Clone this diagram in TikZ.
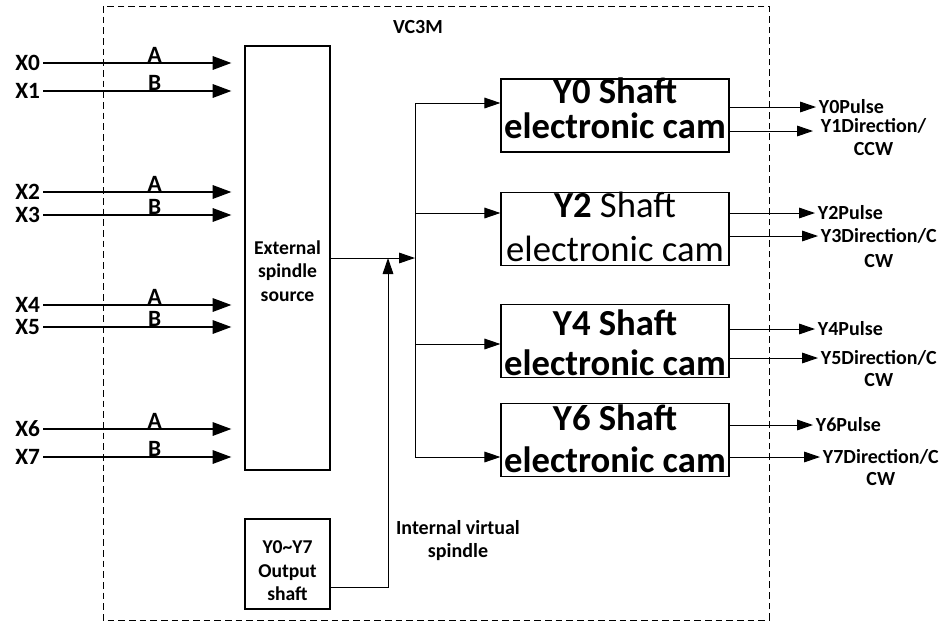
\documentclass[tikz,border=0pt]{standalone}
\usepackage{fontspec}
\setmainfont{Carlito}
\usetikzlibrary{arrows.meta,calc}

\begin{document}
\begin{tikzpicture}[x=0.75pt, y=-0.75pt, >={Triangle[length=12pt,width=8pt]},
	box/.style={draw, line width=0.9pt, inner sep=0pt},
	wire/.style={line width=0.75pt},
	inarrow/.style={line width=1.5pt, -{Triangle[length=14pt,width=10pt]}},
	inlbl/.style={font=\fontsize{17.5}{20}\selectfont\bfseries},
	boxlbl/.style={font=\fontsize{14.7}{17.6}\selectfont\bfseries, align=center},
	outlbl/.style={font=\fontsize{15}{17}\selectfont\bfseries, inner sep=2pt},
	camlbl/.style={align=center, anchor=base}]
	\useasboundingbox (0,0) rectangle (942,622);
	\draw[line width=0.75pt, dash pattern=on 5pt off 3pt] (103,6) rectangle (769,620);
	\node[font=\fontsize{15}{18}\selectfont\bfseries] (vc) at (418,27) {VC3M};

	\node[box, minimum width=63.75pt, minimum height=318pt] (ext) at (287.5,258) {};
	\node[boxlbl] (extlbl) at (287.5,271) {External\\spindle\\source};
	\node[box, minimum width=63.75pt, minimum height=67.5pt] (outsh) at (287.5,564) {};
	\node[boxlbl] (outshlbl) at (287.5,571) {Y0\textasciitilde Y7\\Output\\shaft};

	\foreach \i/\yy/\ab in {0/63/A,1/91/B,2/192/A,3/215/B,4/305/A,5/327/B,6/429/A,7/457/B}{
		\node[inlbl, anchor=east, inner sep=2pt] (x\i) at (43,\yy) {X\i};
		\draw[inarrow, shorten >=9.75pt] (x\i.east) -- (ext.west |- x\i.east) node[pos=0.555, above, inner sep=0pt, inlbl] (ab\i) {\ab};
	}

	\node[box, minimum width=171pt, minimum height=54.75pt] (y0) at (615,115.5) {};
	\node[box, minimum width=171pt, minimum height=54.75pt] (y2) at (615,229) {};
	\node[box, minimum width=171pt, minimum height=54.75pt] (y4) at (615,341) {};
	\node[box, minimum width=171pt, minimum height=54.75pt] (y6) at (615,440) {};
	\node[camlbl, font=\fontsize{27.5}{26.25}\selectfont\bfseries] (y0t) at (615,138) {Y0 Shaft\\electronic cam};
	\node[camlbl, font=\fontsize{27.5}{33}\selectfont] (y2t) at (615,261) {\textbf{Y2} Shaft\\electronic cam};
	\node[camlbl, font=\fontsize{27.5}{30}\selectfont\bfseries] (y4t) at (615,375) {Y4 Shaft\\electronic cam};
	\node[camlbl, font=\fontsize{27.5}{31.5}\selectfont\bfseries] (y6t) at (615,472) {Y6 Shaft\\electronic cam};

	\coordinate (bj) at (415,258);
	\coordinate (vj) at (388,258);
	\coordinate (b0) at (415,103);
	\coordinate (b2) at (415,213);
	\coordinate (b4) at (415,344);
	\coordinate (b6) at (415,457);
	\draw[wire, ->] (ext.east) -- (bj);
	\draw[wire, ->] ($(outsh.east)+(0,23)$) -| (vj);
	\draw[wire] (b0) -- (b6);
	\foreach \n in {0,2,4,6}
		\draw[wire, ->] (b\n) -- (b\n -| y\n.west);
	\node[boxlbl, font=\fontsize{15}{17.3}\selectfont\bfseries] (ivs) at (458,541) {Internal virtual\\spindle};

	\node[outlbl, anchor=west] (p0) at (816,107) {Y0Pulse};
	\node[outlbl, anchor=west] (d0) at (818,126) {Y1Direction/};
	\node[outlbl] (d0b) at (d0.center |- 0,149) {CCW};
	\coordinate (d0in) at (813,131);
	\draw[wire, ->] (p0.west -| y0.east) -- (p0.west);
	\draw[wire, ->] (d0in -| y0.east) -- (d0in);

	\node[outlbl, anchor=west] (p2) at (815,213) {Y2Pulse};
	\node[outlbl, anchor=west] (d2) at (818,236) {Y3Direction/C};
	\node[outlbl] (d2b) at (d2.center |- 0,261) {CW};
	\draw[wire, ->] (p2.west -| y2.east) -- (p2.west);
	\draw[wire, ->] (d2.west -| y2.east) -- (d2.west);

	\node[outlbl, anchor=west] (p4) at (815,329) {Y4Pulse};
	\node[outlbl, anchor=west] (d4) at (818,358) {Y5Direction/C};
	\node[outlbl] (d4b) at (d4.center |- 0,380) {CW};
	\draw[wire, ->] (p4.west -| y4.east) -- (p4.west);
	\draw[wire, ->] (d4.west -| y4.east) -- (d4.west);

	\node[outlbl, anchor=west] (p6) at (813,425) {Y6Pulse};
	\node[outlbl, anchor=west] (d6) at (820,457) {Y7Direction/C};
	\node[outlbl] (d6b) at (d6.center |- 0,479) {CW};
	\draw[wire, ->] (p6.west -| y6.east) -- (p6.west);
	\draw[wire, ->] (d6.west -| y6.east) -- (d6.west);
\end{tikzpicture}
\end{document}
